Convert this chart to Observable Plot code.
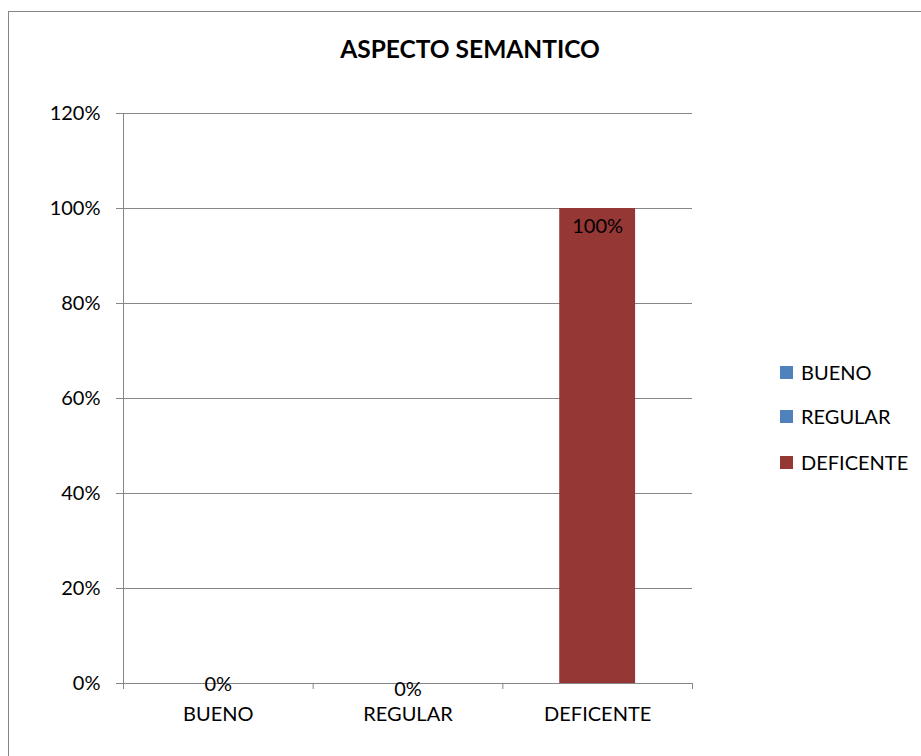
<!DOCTYPE html>
<html><head><meta charset="utf-8">
<script src="https://cdn.jsdelivr.net/npm/d3@7"></script>
<script src="https://cdn.jsdelivr.net/npm/@observablehq/plot@0.6"></script>
<style>
body{margin:0;background:#fff;font-family:Lato,"Noto Sans",sans-serif;color:#000;}
#wrap{position:relative;width:921px;height:756px;overflow:hidden;background:#fff;}
#frame{position:absolute;left:8px;top:11px;width:1000px;height:1000px;border:1px solid #868686;box-sizing:border-box;}
#title{position:absolute;left:0;width:940px;top:36px;line-height:26px;text-align:center;font-weight:bold;font-size:24.5px;}
#chart{position:absolute;left:0;top:0;}
#legend{position:absolute;left:780px;top:0;}
.item{position:absolute;left:0;height:22px;display:flex;align-items:center;font-size:20px;white-space:nowrap;}
.sw{width:13px;height:13px;margin-right:8px;}
</style></head>
<body>
<div id="wrap">
  <div id="frame"></div>
  <div id="chart"></div>
  <div id="title">ASPECTO SEMANTICO</div>
  <div id="legend"></div>
</div>
<script>
const categories = ["BUENO", "REGULAR", "DEFICENTE"];
const values = [0, 0, 100];
const colors = ["#4F81BD", "#4F81BD", "#953735"];
const yTicks = [0, 20, 40, 60, 80, 100, 120];
const legendLabels = ["BUENO", "REGULAR", "DEFICENTE"];
const labelDy = [1, 6, 18];

const data = categories.map((c, i) => ({c, i, v: values[i], color: colors[i], dy: labelDy[i]}));
const grid = "#868686";

const plot = Plot.plot({
  width: 921, height: 756,
  marginLeft: 123, marginRight: 229, marginTop: 113, marginBottom: 73,
  style: {fontFamily: "Lato, 'Noto Sans', sans-serif", fontSize: "20px", color: "#000", background: "transparent", overflow: "visible"},
  x: {domain: [0, categories.length], axis: null},
  y: {domain: [0, 120], axis: null},
  color: {type: "identity"},
  marks: [
    Plot.gridY(yTicks, {stroke: grid, strokeOpacity: 1}),
    Plot.rectY(data, {x1: d => d.i + 0.3, x2: d => d.i + 0.7, y: "v", fill: "color"}),
    Plot.axisY({ticks: yTicks, label: null, tickSize: 7, tickPadding: 16, tickFormat: d => d + "%", stroke: grid, strokeOpacity: 1, fill: "#000"}),
    Plot.ruleX([0], {stroke: grid}),
    Plot.ruleY([0], {stroke: grid}),
    Plot.axisX({ticks: d3.range(categories.length + 1), label: null, tickSize: 6, tickFormat: () => "", stroke: grid, strokeOpacity: 1}),
    Plot.axisX({ticks: categories.map((c, i) => i + 0.5), label: null, tickSize: 0, tickPadding: 23, tickFormat: d => categories[Math.floor(d)], fill: "#000"}),
    ...data.map(d => Plot.text([d], {x: d => d.i + 0.5, y: "v", text: d => d.v + "%", dy: d.dy, fill: "#000", fontSize: 20}))
  ]
});
document.getElementById("chart").appendChild(plot);

const legendY = [372, 416, 462];
const leg = document.getElementById("legend");
legendLabels.forEach((l, i) => {
  const it = document.createElement("div");
  it.className = "item";
  it.style.top = (legendY[i] - 11) + "px";
  it.innerHTML = `<div class="sw" style="background:${colors[i]}"></div><span>${l}</span>`;
  leg.appendChild(it);
});
</script>
</body></html>
